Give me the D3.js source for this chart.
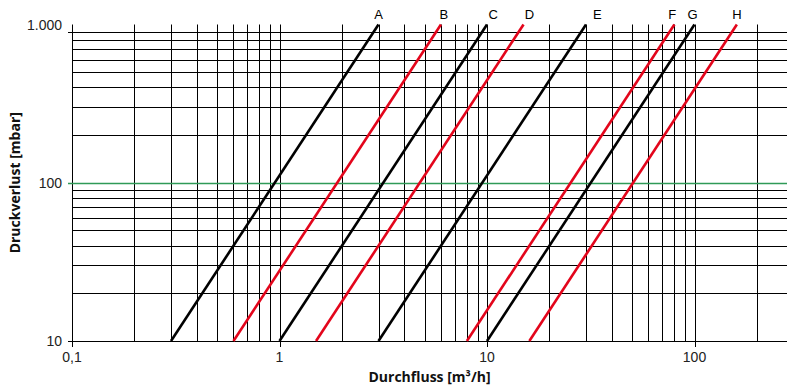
<!DOCTYPE html>
<html>
<head>
<meta charset="utf-8">
<script src="https://cdn.jsdelivr.net/npm/d3@7"></script>
<style>
  html, body { margin: 0; padding: 0; background: #fff; }
  svg { display: block; }
</style>
</head>
<body>
<svg id="chart" width="787" height="387"></svg>
<script>
// ---- data ----
const curveNames = ["A", "B", "C", "D", "E", "F", "G", "H"];
const curveColors = ["black", "red", "black", "red", "black", "red", "black", "red"];
// flow [m3/h] at 10 mbar and at 1000 mbar
const flowAt10 = [0.3, 0.6, 1, 1.5, 3, 8, 10, 16];
const flowAt1000 = [3, 6, 10, 15, 30, 80, 100, 160];
const pressureEnds = [10, 1000];
// label positions (flow value) above each curve
const labelFlow = [3, 6.2, 10.7, 16, 34, 78, 98, 160];

const xTickValues = [0.1, 1, 10, 100];
const xTickLabels = ["0,1", "1", "10", "100"];
const yTickValues = [10, 100, 1000];
const yTickLabels = ["10", "100", "1.000"];
const xGridValues = [0.1,0.2,0.3,0.4,0.5,0.6,0.7,0.8,0.9,1,2,3,4,5,6,7,8,9,10,20,30,40,50,60,70,80,90,100,200];
const yGridValues = [10,20,30,40,50,60,70,80,90,200,300,400,500,600,700,800,900];
const yExtendValues = [10, 900];
const highlightValue = 100;

(function () {
// ---- layout ----
const W = 787, H = 387;
const mLeft = 72, mRight = 787, mTop = 24.5, mBottom = 341;
const x = d3.scaleLog().domain([0.1, 100]).range([mLeft, mLeft + 3 * 207.5]);
const y = d3.scaleLog().domain([10, 1000]).range([mBottom, mTop]);

const svg = d3.select("#chart");
const red = "#e3051b", green = "#2f9a57";

// vertical grid
svg.append("g").selectAll("line").data(xGridValues).join("line")
  .attr("x1", d => Math.round(x(d)) + 0.5).attr("x2", d => Math.round(x(d)) + 0.5)
  .attr("y1", y(1000)).attr("y2", mBottom)
  .attr("stroke", "#000").attr("stroke-width", 1);

// x ticks below
svg.append("g").selectAll("line").data(xTickValues).join("line")
  .attr("x1", d => Math.round(x(d)) + 0.5).attr("x2", d => Math.round(x(d)) + 0.5)
  .attr("y1", mBottom).attr("y2", mBottom + 6)
  .attr("stroke", "#000").attr("stroke-width", 1);

// horizontal grid
svg.append("g").selectAll("line").data(yGridValues).join("line")
  .attr("x1", d => yExtendValues.includes(d) ? mLeft - 4 : mLeft).attr("x2", mRight)
  .attr("y1", d => Math.round(y(d)) + 0.5).attr("y2", d => Math.round(y(d)) + 0.5)
  .attr("stroke", "#000").attr("stroke-width", 1);

// highlight line at 100 mbar
svg.append("line")
  .attr("x1", mLeft - 4).attr("x2", mRight)
  .attr("y1", Math.round(y(highlightValue)) + 0.5).attr("y2", Math.round(y(highlightValue)) + 0.5)
  .attr("stroke", green).attr("stroke-width", 1.6);

// curves
const line = d3.line().x(d => x(d[0])).y(d => y(d[1]));
curveNames.forEach((n, i) => {
  svg.append("path")
    .attr("d", line([[flowAt10[i], pressureEnds[0]], [flowAt1000[i], pressureEnds[1]]]))
    .attr("fill", "none")
    .attr("stroke", curveColors[i] === "red" ? red : "#000")
    .attr("stroke-width", 2.6);
});

// curve labels
svg.append("g").selectAll("text").data(curveNames).join("text")
  .attr("x", (d, i) => x(labelFlow[i]))
  .attr("y", y(1000) - 5.5)
  .attr("text-anchor", "middle")
  .attr("font-family", "Liberation Sans, Arial, sans-serif")
  .attr("font-size", 13)
  .attr("fill", "#000")
  .text(d => d);

// x tick labels
svg.append("g").selectAll("text").data(xTickValues).join("text")
  .attr("x", d => x(d))
  .attr("y", 362)
  .attr("text-anchor", "middle")
  .attr("font-family", "Liberation Sans, Arial, sans-serif")
  .attr("font-size", 14)
  .attr("fill", "#222")
  .text((d, i) => xTickLabels[i]);

// y tick labels
svg.append("g").selectAll("text").data(yTickValues).join("text")
  .attr("x", 62)
  .attr("y", d => y(d) + 5)
  .attr("text-anchor", "end")
  .attr("font-family", "Liberation Sans, Arial, sans-serif")
  .attr("font-size", 14)
  .attr("fill", "#222")
  .text((d, i) => yTickLabels[i]);

// axis titles
svg.append("text")
  .attr("x", (mLeft + mRight) / 2).attr("y", 382)
  .attr("text-anchor", "middle")
  .attr("font-family", "Open Sans, Noto Sans, sans-serif")
  .attr("font-weight", "bold").attr("font-size", 14)
  .attr("fill", "#111")
  .text("Durchfluss [m³/h]");

svg.append("text")
  .attr("transform", `translate(20, ${(mTop + mBottom) / 2}) rotate(-90)`)
  .attr("text-anchor", "middle")
  .attr("font-family", "Open Sans, Noto Sans, sans-serif")
  .attr("font-weight", "bold").attr("font-size", 14)
  .attr("fill", "#111")
  .text("Druckverlust [mbar]");
})();
</script>
</body>
</html>
